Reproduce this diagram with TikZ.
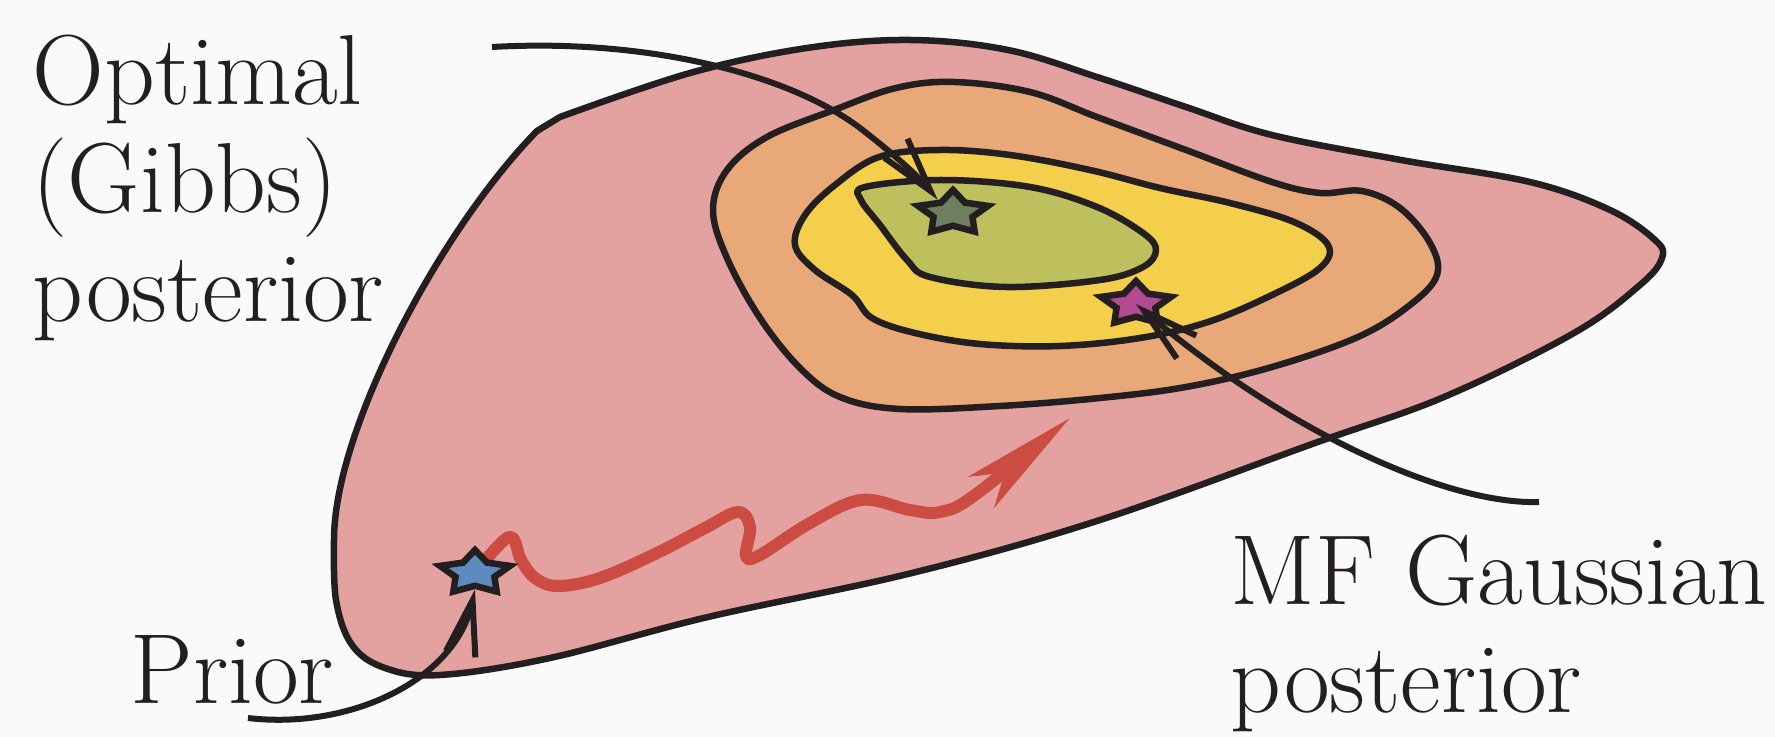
\documentclass[tikz,border=0pt]{standalone}
\usepackage[dvipsnames]{xcolor}
\usepackage{tikz}
\usetikzlibrary{shapes,arrows.meta,positioning,calc}

\definecolor{ink}{HTML}{231F20}
\definecolor{paper}{HTML}{FAFAFA}
\definecolor{lvlone}{HTML}{E3A29F}
\definecolor{lvltwo}{HTML}{E9A878}
\definecolor{lvlthree}{HTML}{F4CF4B}
\definecolor{lvlfour}{HTML}{BEC05D}
\definecolor{gibbscol}{HTML}{6D7F5E}
\definecolor{mfcol}{HTML}{B44A91}
\definecolor{priorcol}{HTML}{5D8BC0}
\definecolor{walkcol}{HTML}{CC4B42}

\begin{document}
\begin{tikzpicture}[
    x=0.01cm, y=-0.01cm,
    contour/.style={draw=ink, line width=0.065cm, line join=round},
    pointstar/.style={star, star points=5, star point ratio=1.8, minimum size=0.46cm, inner sep=0pt, draw=ink, line width=0.065cm, transform shape},
    lbl/.style={font=\fontsize{28.3pt}{30.9pt}\selectfont, align=left, inner sep=0pt, text=ink},
    ptr/.style={-{Straight Barb[length=0.55cm, width=0.3cm]}, draw=ink, line width=0.06cm},
    walk/.style={-{Stealth[length=1.15cm, width=0.4cm, inset=0.3cm]}, draw=walkcol, line width=0.12cm, line cap=round, line join=round}
]
    \path[use as bounding box, fill=paper] (0,0) rectangle (1775,737);

    \filldraw[contour, fill=lvlone] plot[smooth, tension=0.6] coordinates {
        (560,117) (690,73) (807,48) (910,40) (1008,50) (1100,78) (1186,107)
        (1272,135) (1401,160) (1530,182) (1610,210) (1655,240) (1662,258) (1640,285)
        (1574,333) (1444,397) (1315,443) (1100,520) (912,573) (708,617) (550,658)
        (440,675) (385,668) (352,645) (336,600) (334,540)}
        .. controls (334,430) and (440,230) .. (537,131) -- cycle;
    \filldraw[contour, fill=lvltwo] plot[smooth cycle, tension=0.6] coordinates {
        (767,137) (834,110) (896,88) (954,82) (1030,92) (1097,117) (1186,150)
        (1272,182) (1320,193) (1362,191) (1400,208) (1430,243) (1437,275) (1410,305)
        (1358,337) (1272,367) (1186,387) (1100,398) (1000,406) (900,409) (840,397)
        (800,368) (760,318) (727,258) (713,210) (727,170)};
    \filldraw[contour, fill=lvlthree] plot[smooth cycle, tension=0.6] coordinates {
        (879,157) (940,150) (1010,155) (1090,170) (1160,188) (1230,203) (1294,222)
        (1328,245) (1320,268) (1272,295) (1208,322) (1140,338) (1060,346) (980,344)
        (915,333) (872,318) (852,295) (815,270) (795,245) (805,215) (835,185)};
    \filldraw[contour, fill=lvlfour] plot[smooth cycle, tension=0.6] coordinates {
        (865,187) (941,180) (1030,187) (1097,207) (1143,233) (1156,250) (1143,267)
        (1100,280) (1006,287) (930,277) (907,260) (880,225) (861,200)};

    \coordinate (priorpt) at (475,573);
    \draw[walk] plot[smooth, tension=0.6] coordinates {
        (priorpt) (509,537) (521,560) (535,578) (558,586) (600,578) (657,553)
        (705,528) (738,512) (750,527) (746,556) (760,555) (810,523) (861,500)
        (910,510) (940,512) (975,495) (1070,418)};

    \begin{scope}[shift={(priorpt)}, xscale=1.6]
        \node[pointstar, fill=priorcol] (priorstar) at (0,0) {};
    \end{scope}
    \begin{scope}[shift={(953,213)}, xscale=1.6]
        \node[pointstar, fill=gibbscol] (gibbsstar) at (0,0) {};
    \end{scope}
    \begin{scope}[shift={(1136,304)}, xscale=1.6]
        \node[pointstar, fill=mfcol] (mfstar) at (0,0) {};
    \end{scope}

    \coordinate (gibbsfrom) at (492,47);
    \coordinate (mffrom) at (1539,502);
    \coordinate (priorfrom) at (248,718);

    \draw[ptr] (gibbsfrom) .. controls (650,38) and (790,75) .. (860,128)
        .. controls (895,155) and (920,178) .. (gibbsstar.126);
    \draw[ptr] (mffrom) .. controls (1450,505) and (1290,435) .. (mfstar.center);
    \draw[ptr] (priorfrom) .. controls (350,730) and (455,680) .. (priorstar.south);

    \node[lbl, anchor=north west] (gibbslbl) at (32,34) {Optimal\\(Gibbs)\\posterior};
    \node[lbl, anchor=north west] (mflbl) at (1230,534) {MF Gaussian\\posterior};
    \node[lbl, anchor=base west] (priorlbl) at (130,704) {Prior};
\end{tikzpicture}
\end{document}
